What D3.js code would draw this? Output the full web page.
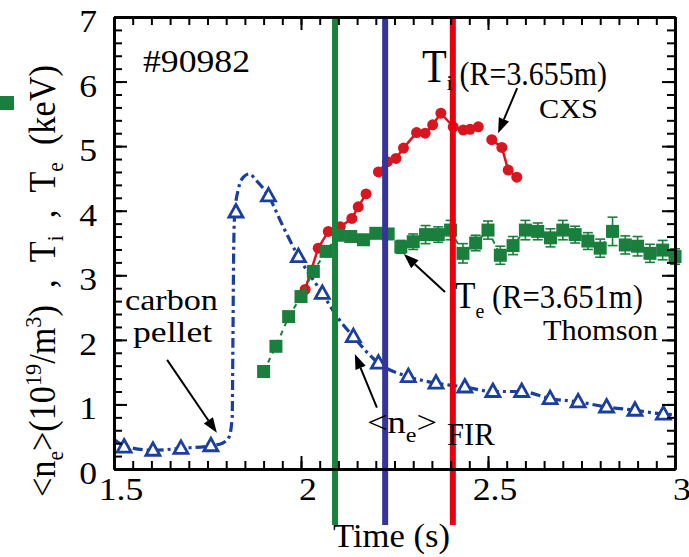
<!DOCTYPE html>
<html>
<head>
<meta charset="utf-8">
<script src="https://cdn.jsdelivr.net/npm/d3@7"></script>
<style>
  html, body { margin: 0; padding: 0; background: #fff; }
  svg { display: block; }
  svg text { font-family: "Liberation Serif", "Times New Roman", Times, serif; }
</style>
</head>
<body>
<svg id="chart" width="689" height="557"></svg>
<script>
// Shot #90982: line-averaged density (FIR), ion temperature (CXS) and
// electron temperature (Thomson) after a carbon pellet injection.

const xTicks = [1.5, 2, 2.5, 3];
const xTickLabels = ["1.5", "2", "2.5", "3"];
const yTicks = [0, 1, 2, 3, 4, 5, 6, 7];
const yTickLabels = ["0", "1", "2", "3", "4", "5", "6", "7"];

// <ne> FIR trace (10^19 m^-3)
const neTraceTime = [1.500, 1.527, 1.604, 1.679, 1.759, 1.790, 1.808, 1.816, 1.818, 1.820, 1.823,
  1.832, 1.846, 1.862, 1.880, 1.913, 1.950, 1.993, 2.057, 2.100, 2.140, 2.207, 2.287, 2.361,
  2.438, 2.513, 2.590, 2.666, 2.741, 2.817, 2.893, 2.969, 3.000];
const neTraceValue = [0.46, 0.36, 0.29, 0.32, 0.36, 0.40, 0.50, 0.80, 2.00, 3.40, 3.98,
  4.32, 4.52, 4.57, 4.47, 4.23, 3.78, 3.29, 2.72, 2.33, 2.05, 1.64, 1.43, 1.33,
  1.27, 1.20, 1.20, 1.09, 1.04, 0.96, 0.91, 0.85, 0.84];
// <ne> sampled points (triangles)
const neMarkTime = [1.527, 1.604, 1.679, 1.759, 1.826, 1.913, 1.993, 2.057, 2.140, 2.207,
  2.287, 2.361, 2.438, 2.513, 2.590, 2.666, 2.741, 2.817, 2.893, 2.969];
const neMarkValue = [0.34, 0.29, 0.32, 0.36, 3.98, 4.23, 3.29, 2.72, 2.05, 1.64,
  1.43, 1.33, 1.27, 1.20, 1.20, 1.09, 1.04, 0.96, 0.91, 0.85];

// Ti (keV), CXS at R = 3.655 m; null marks a break in the trace
const tiTime = [2.011, 2.046, 2.073, 2.105, 2.136, 2.153, 2.174, null, 2.207, 2.231, 2.254,
  2.274, 2.309, 2.332, 2.352, 2.374, 2.407, 2.434, 2.452, 2.474, null, 2.510, 2.537, 2.554, 2.577];
const tiValue = [2.78, 3.42, 3.68, 3.75, 3.88, 4.06, 4.26, null, 4.60, 4.76, 4.81,
  4.97, 5.21, 5.20, 5.33, 5.51, 5.30, 5.25, 5.26, 5.30, null, 5.10, 4.98, 4.63, 4.52];

// Te (keV), Thomson at R = 3.651 m
const teTime = [1.900, 1.933, 1.967, 2.000, 2.033, 2.067, 2.100, 2.133, 2.167, 2.200, 2.233,
  2.267, 2.300, 2.333, 2.367, 2.400, 2.433, 2.467, 2.500, 2.533, 2.567, 2.600, 2.633,
  2.667, 2.700, 2.733, 2.767, 2.800, 2.833, 2.867, 2.900, 2.933, 2.967, 3.000];
const teValue = [1.51, 1.90, 2.36, 2.67, 3.06, 3.37, 3.62, 3.60, 3.55, 3.65, 3.64,
  3.44, 3.52, 3.63, 3.63, 3.70, 3.34, 3.50, 3.70, 3.31, 3.46, 3.70, 3.68,
  3.58, 3.70, 3.63, 3.53, 3.42, 3.68, 3.47, 3.45, 3.34, 3.39, 3.29];
const teError = [0.06, 0.06, 0.06, 0.06, 0.06, 0.06, 0.06, 0.06, 0.06, 0.06, 0.06,
  0.10, 0.12, 0.14, 0.12, 0.15, 0.15, 0.12, 0.14, 0.14, 0.14, 0.15, 0.13,
  0.14, 0.15, 0.13, 0.13, 0.14, 0.22, 0.14, 0.15, 0.14, 0.15, 0.12];

// times of the three profile snapshots
const snapshotTimes = [2.091, 2.225, 2.406];

// annotation arrows [fromTime, fromValue, toTime, toValue]
const arrowPellet = [1.642, 1.69, 1.775, 0.56];
const arrowTi = [2.578, 5.90, 2.527, 5.20];
const arrowTe = [2.385, 2.74, 2.275, 3.33];
const arrowNe = [2.203, 0.95, 2.144, 1.78];

const W = 689, H = 557;
const margin = { left: 114, right: 14, top: 17, bottom: 88 };
const FONT = "'Liberation Serif', 'Times New Roman', Times, serif";
const svg = d3.select("#chart");

const x = d3.scaleLinear().domain([1.5, 3]).range([margin.left, W - margin.right]);
const y = d3.scaleLinear().domain([0, 7]).range([H - margin.bottom, margin.top]);

const GREEN = "#1a7f3d", BLUE = "#1b3f9e", RED = "#d9161f";
const snapshotColors = ["#19833c", "#34349a", "#e8000e"];

// ---- Ti (CXS) ----
const tiPts = tiTime.map((t, i) => ({ t, v: tiValue[i] }));
svg.append("path")
  .attr("d", d3.line().defined(d => d.t !== null).x(d => x(d.t)).y(d => y(d.v))(tiPts))
  .attr("fill", "none").attr("stroke", RED).attr("stroke-width", 2.5);
svg.append("g").selectAll("circle").data(tiPts.filter(d => d.t !== null)).join("circle")
  .attr("cx", d => x(d.t)).attr("cy", d => y(d.v)).attr("r", 5.5).attr("fill", RED);

// ---- <ne> (FIR) ----
const nePts = neTraceTime.map((t, i) => ({ t, v: neTraceValue[i] }));
svg.append("path")
  .attr("d", d3.line().curve(d3.curveMonotoneX).x(d => x(d.t)).y(d => y(d.v))(nePts))
  .attr("fill", "none").attr("stroke", BLUE).attr("stroke-width", 3.2)
  .attr("stroke-dasharray", "10,4,3,4");
svg.append("g").selectAll("path").data(neMarkTime.map((t, i) => ({ t, v: neMarkValue[i] }))).join("path")
  .attr("transform", d => `translate(${x(d.t)},${y(d.v)})`)
  .attr("d", "M0,-7.5L7,5L-7,5Z")
  .attr("fill", "#fff").attr("stroke", BLUE).attr("stroke-width", 2.8).attr("stroke-linejoin", "miter");

// ---- Te (Thomson) ----
const tePts = teTime.map((t, i) => ({ t, v: teValue[i], e: teError[i] }));
svg.append("path")
  .attr("d", d3.line().x(d => x(d.t)).y(d => y(d.v))(tePts))
  .attr("fill", "none").attr("stroke", GREEN).attr("stroke-width", 2)
  .attr("stroke-dasharray", "5,5");
const eb = svg.append("g").attr("stroke", GREEN).attr("stroke-width", 1.6);
tePts.forEach(d => {
  const xc = x(d.t), y0 = y(d.v - d.e), y1 = y(d.v + d.e);
  eb.append("line").attr("x1", xc).attr("x2", xc).attr("y1", y0).attr("y2", y1);
  eb.append("line").attr("x1", xc - 5).attr("x2", xc + 5).attr("y1", y0).attr("y2", y0);
  eb.append("line").attr("x1", xc - 5).attr("x2", xc + 5).attr("y1", y1).attr("y2", y1);
});
svg.append("g").selectAll("rect").data(tePts).join("rect")
  .attr("x", d => x(d.t) - 6.5).attr("y", d => y(d.v) - 6.5)
  .attr("width", 13).attr("height", 13).attr("fill", GREEN);

// ---- snapshot markers ----
svg.append("g").selectAll("line").data(snapshotTimes).join("line")
  .attr("x1", d => x(d)).attr("x2", d => x(d))
  .attr("y1", margin.top).attr("y2", 525)
  .attr("stroke", (d, i) => snapshotColors[i]).attr("stroke-width", 6);

// ---- axes: frame with inward major/minor ticks ----
const xMinor = x.ticks(30), yMinor = y.ticks(35);
function styleAxis(g) {
  g.select(".domain").attr("stroke", "#000").attr("stroke-width", 3);
  g.selectAll(".tick line").attr("stroke", "#000").attr("stroke-width", 2);
  g.selectAll(".tick text").remove();
}
const axisDefs = [
  [d3.axisBottom(x), `translate(0,${y(0)})`, xMinor, xTicks],
  [d3.axisTop(x), `translate(0,${y(7)})`, xMinor, xTicks],
  [d3.axisLeft(y), `translate(${x(1.5)},0)`, yMinor, yTicks],
  [d3.axisRight(y), `translate(${x(3)},0)`, yMinor, yTicks]
];
axisDefs.forEach(([ax, tr, minor, major]) => {
  svg.append("g").attr("transform", tr)
    .call(ax.tickValues(minor).tickSize(-8).tickSizeOuter(0).tickFormat(""))
    .call(styleAxis);
  svg.append("g").attr("transform", tr)
    .call(ax.tickValues(major).tickSize(-13).tickSizeOuter(0).tickFormat(""))
    .call(styleAxis);
});

// ---- text helpers ----
function rich(t, parts) {
  parts.forEach(([s, size, dy]) => t.append("tspan")
    .attr("font-family", FONT).attr("font-size", size).attr("dy", dy || 0).text(s));
}
function fitText(px, py, width, parts, extra) {
  const t = svg.append("text").attr("font-family", FONT).attr("fill", "#000");
  rich(t, parts);
  const w = t.node().getBBox().width;
  t.attr("transform", `translate(${px},${py}) ${extra || ""} scale(${width / w},1)`);
  return t;
}

// tick labels
xTicks.forEach((v, i) => {
  svg.append("text").attr("font-family", FONT).attr("font-size", 31).attr("text-anchor", "middle")
    .attr("transform", `translate(${x(v) + 7},${y(0) + 31}) scale(1.15,1)`)
    .text(xTickLabels[i]);
});
yTicks.forEach((v, i) => {
  svg.append("text").attr("font-family", FONT).attr("font-size", 31).attr("text-anchor", "end")
    .attr("transform", `translate(97,${y(v) + 15}) scale(1.15,1)`)
    .text(yTickLabels[i]);
});

// axis titles
fitText(333, 547, 117, [["Time (s)", 33]]);
const NB = "\u00A0";
fitText(55, 497, 432, [
  ["<n", 37], ["e", 23, 8], [">(10", 37, -8], ["19", 24, -14], ["/m", 37, 14], ["3", 24, -14],
  [")" + NB + NB + "," + NB + NB + "T", 37, 14], ["i", 23, 8], [NB + NB + "," + NB + NB + "T", 37, -8],
  ["e", 23, 8], [NB + NB + "(keV)", 37, -8]
], "rotate(-90)");

// legend swatch for Te
svg.append("rect").attr("x", 0).attr("y", 96).attr("width", 14).attr("height", 14).attr("fill", GREEN);

// annotations
fitText(143, 72, 107, [["#90982", 32]]);
fitText(422, 82, 185, [["T", 46], ["i", 22, 8], [NB + "(R=3.655m)", 34, -5]]);
fitText(539, 118, 59, [["CXS", 28]]);
fitText(455, 308, 188, [["T", 37], ["e", 22, 10], [NB + "(R=3.651m)", 34, -10]]);
fitText(543, 340, 115, [["Thomson", 30]]);
fitText(367, 433, 70, [["<n", 32], ["e", 21, 9], [">", 32, -9]]);
fitText(447, 445, 48, [["FIR", 31]]);
fitText(125, 310, 93, [["carbon", 30]]);
fitText(133, 342, 80, [["pellet", 30]]);

// arrows
function arrow(a) {
  const x0 = x(a[0]), y0 = y(a[1]), x1 = x(a[2]), y1 = y(a[3]);
  const ang = Math.atan2(y1 - y0, x1 - x0), L = 15, hw = 5.5;
  const bx = x1 - L * Math.cos(ang), by = y1 - L * Math.sin(ang);
  svg.append("line").attr("x1", x0).attr("y1", y0).attr("x2", bx).attr("y2", by)
    .attr("stroke", "#000").attr("stroke-width", 2);
  const px = -Math.sin(ang) * hw, py = Math.cos(ang) * hw;
  svg.append("path")
    .attr("d", `M${x1},${y1}L${bx + px},${by + py}L${bx - px},${by - py}Z`)
    .attr("fill", "#000");
}
[arrowPellet, arrowTi, arrowTe, arrowNe].forEach(arrow);
</script>
</body>
</html>
